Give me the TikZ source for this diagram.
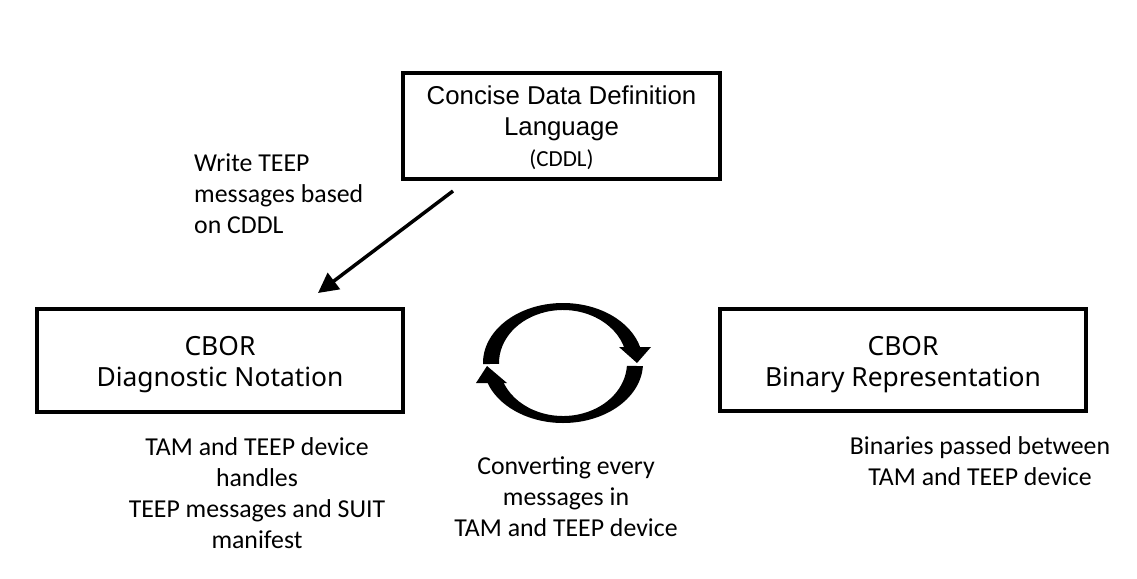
\documentclass[tikz,border=0pt]{standalone}
\usepackage{fontspec}
\setmainfont{Carlito}
\newfontfamily\boxfontA{Liberation Sans}
\newfontfamily\boxfontB{Noto Sans}
\usetikzlibrary{arrows.meta,calc}
\newcommand\lowered[2]{\raisebox{-#1}[\height][\depth]{\begin{tabular}{@{}c@{}}#2\end{tabular}}}
\begin{document}
\begin{tikzpicture}[x=1pt,y=1pt,
  mainbox/.style={draw, line width=3.5pt, inner sep=0pt, align=center},
  lbl/.style={inner sep=0pt, align=center, font=\fontsize{25.8}{31}\selectfont},
  cyc/.style={fill=black, draw=none}]
\useasboundingbox (0,0) rectangle (1137,-578);
\fill[white] (0,0) rectangle (1137,-578);

\node[mainbox, minimum width=317pt, minimum height=106pt,
      font=\boxfontA\fontsize{25.8}{31}\selectfont] (cddl) at (561.5,-126)
  {\lowered{3.5pt}{Concise Data Definition\\Language\\{\normalfont\fontsize{23}{31}\selectfont (CDDL)}}};
\node[mainbox, minimum width=366pt, minimum height=103pt,
      font=\boxfontB\fontsize{26.4}{31}\selectfont] (diag) at (220,-360.5)
  {\lowered{4.5pt}{CBOR\\Diagnostic Notation}};
\node[mainbox, minimum width=366pt, minimum height=102pt,
      font=\boxfontB\fontsize{26.4}{31}\selectfont] (bin) at (903,-360)
  {\lowered{4.5pt}{CBOR\\Binary Representation}};

\coordinate (a1) at (453,-191);
\coordinate (a2) at (318,-293);
\draw[line width=3.5pt, -{Triangle[length=20pt,width=20pt]}] (a1) -- (a2);

\node[lbl, align=left, anchor=west] (write) at (194,-194)
  {Write TEEP\\messages based\\on CDDL};
\node[lbl] (handles) at (257,-493)
  {TAM and TEEP device\\handles\\TEEP messages and SUIT\\manifest};
\node[lbl] (conv) at (566,-496.5)
  {Converting every\\messages in\\TAM and TEEP device};
\node[lbl] (binlbl) at (980,-461.5)
  {Binaries passed between\\TAM and TEEP device};

% cycle arrows
\coordinate (C) at (563,-363);
\fill[cyc] ($(C)+(181:80 and 60)$) arc[start angle=181, end angle=15, x radius=80, y radius=60]
  -- ($(C)+(15:64 and 53)$) arc[start angle=15, end angle=181, x radius=64, y radius=53] -- cycle;
\fill[cyc] (619,-347) -- (651,-347) -- (637,-363) -- cycle;
\fill[cyc] ($(C)+(-3:80 and 60)$) arc[start angle=-3, end angle=-161.5, x radius=80, y radius=60]
  -- ($(C)+(-161.5:64 and 53)$) arc[start angle=-161.5, end angle=-3, x radius=64, y radius=53] -- cycle;
\fill[cyc] (476,-383) -- (507,-383) -- (487,-366) -- cycle;
\end{tikzpicture}
\end{document}
